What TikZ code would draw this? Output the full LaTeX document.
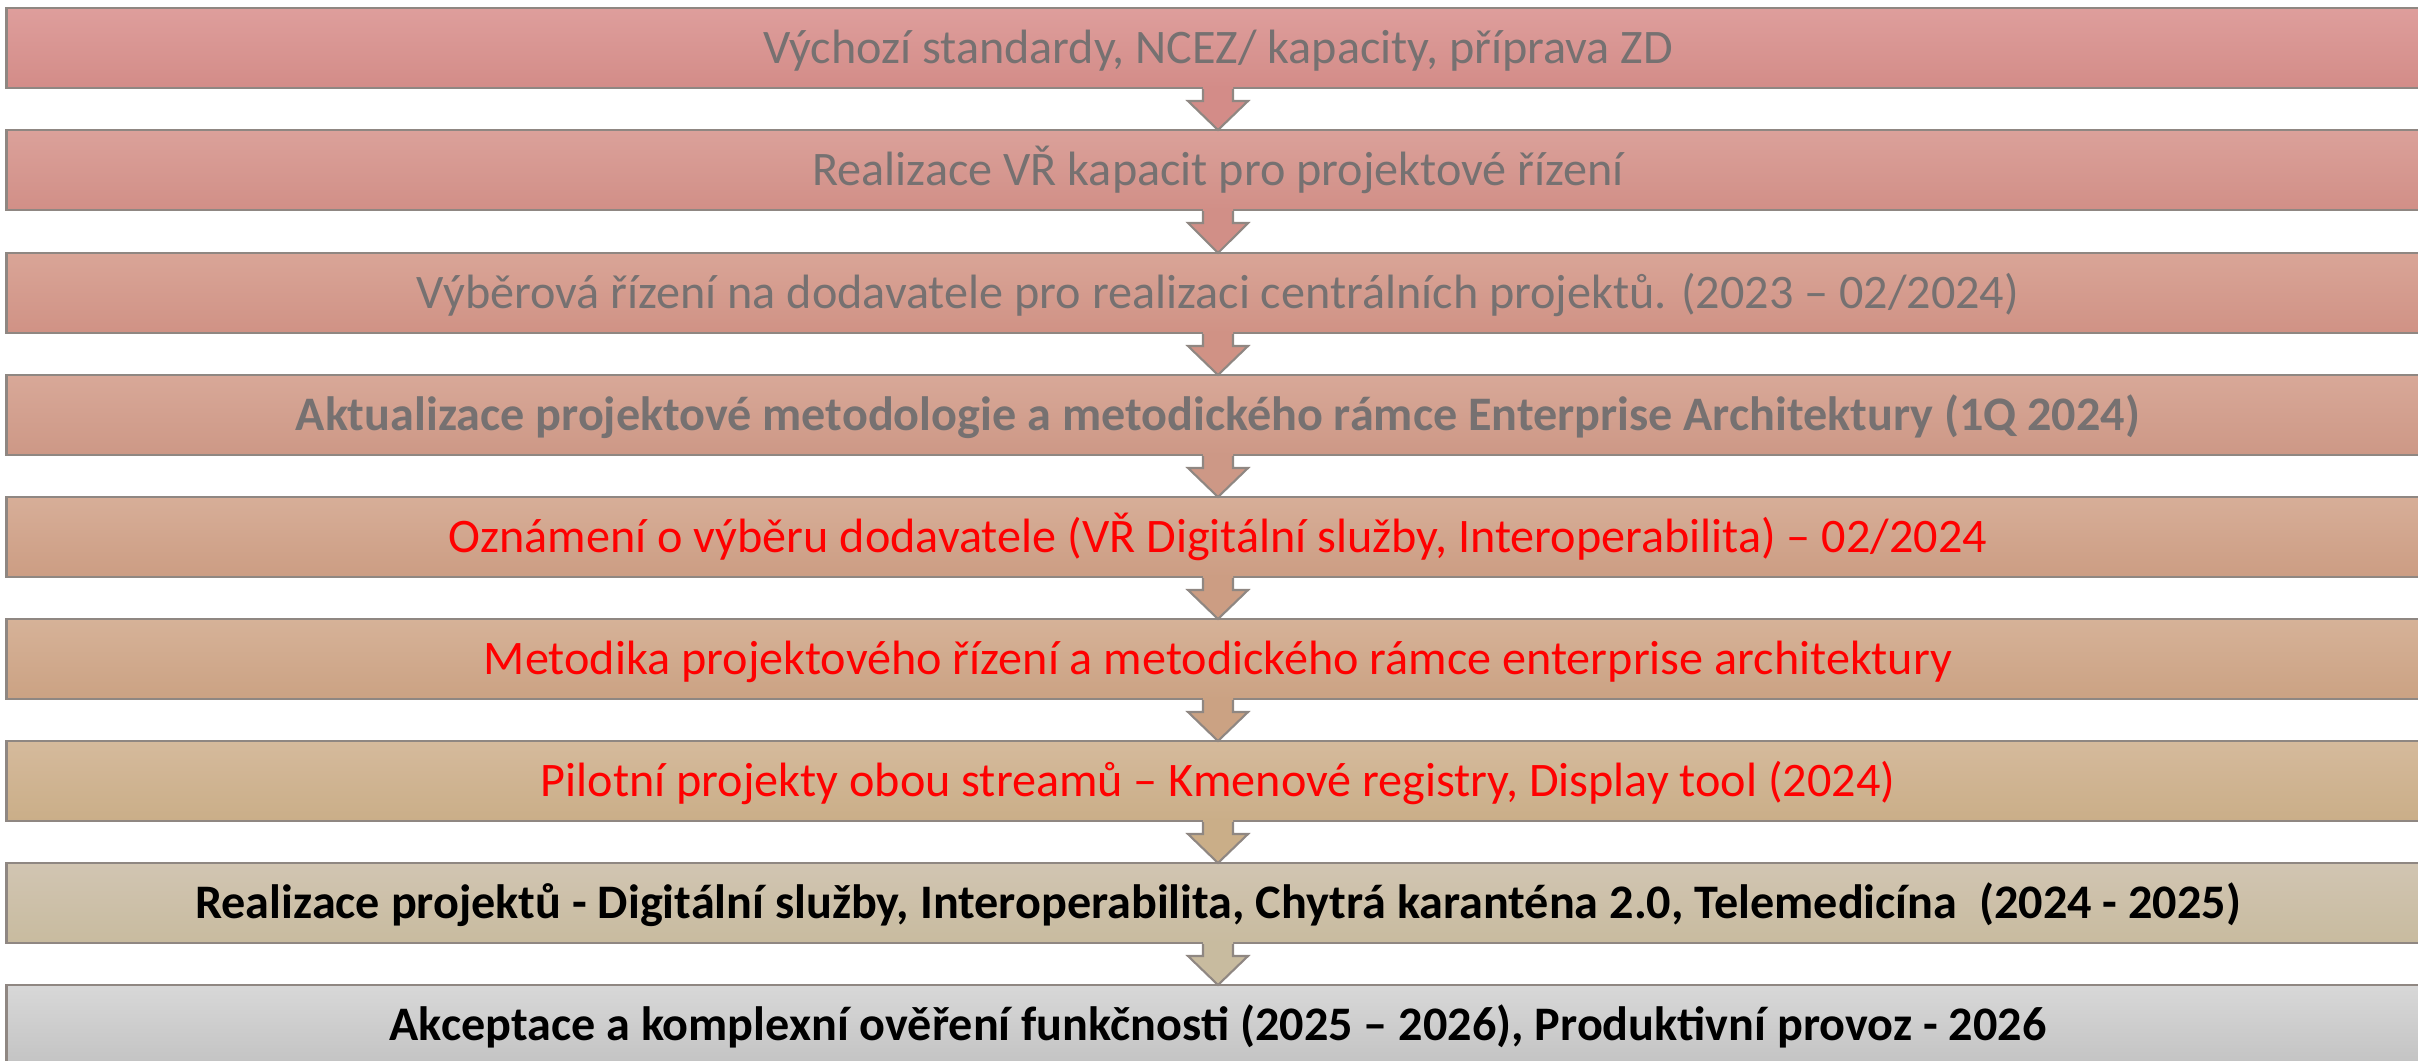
\documentclass[tikz,border=0pt]{standalone}
\usepackage{fontspec}
\setmainfont{Carlito}
\usetikzlibrary{calc}

\definecolor{topA}{HTML}{DE9E9C}\definecolor{botA}{HTML}{D38C88}
\definecolor{topB}{HTML}{DBA19A}\definecolor{botB}{HTML}{D18F87}
\definecolor{topC}{HTML}{D9A597}\definecolor{botC}{HTML}{D09285}
\definecolor{topD}{HTML}{D8A898}\definecolor{botD}{HTML}{CD9886}
\definecolor{topE}{HTML}{D7AE98}\definecolor{botE}{HTML}{CC9D83}
\definecolor{topF}{HTML}{D6B298}\definecolor{botF}{HTML}{CBA283}
\definecolor{topG}{HTML}{D5BA9C}\definecolor{botG}{HTML}{CAAE88}
\definecolor{topH}{HTML}{D1C5B2}\definecolor{botH}{HTML}{C8BB9F}
\definecolor{topI}{HTML}{D8D8D8}\definecolor{botI}{HTML}{C3C3C3}
\definecolor{txtgray}{HTML}{767171}
\definecolor{rimgray}{HTML}{8F8782}

\tikzset{
  box/.style 2 args={rectangle, draw=rimgray, line width=0.7pt,
    top color=#1, bottom color=#2, minimum width=24.22cm, minimum height=0.80cm,
    inner sep=0pt, outer sep=0pt, text height=0.31cm, text depth=0pt,
    font=\fontsize{13.7pt}{15pt}\selectfont},
  grey/.style={text=txtgray},
  red/.style={text=red},
  arrline/.style={draw=rimgray, line width=0.6pt, line join=miter}
}

\begin{document}
\begin{tikzpicture}[x=0.01cm, y=-0.01cm]
    \useasboundingbox (0,0) rectangle (2418,1061);
    \clip (0,0) rectangle (2418,1061);
%
    \node[box={topA}{botA}, grey] (b1) at (1218,48) {Výchozí standardy, NCEZ/ kapacity, příprava ZD};
    \node[box={topB}{botB}, grey] (b2) at (1218,170) {Realizace VŘ kapacit pro projektové řízení};
    \node[box={topC}{botC}, grey] (b3) at (1218,293) {Výběrová řízení na dodavatele pro realizaci centrálních projektů. (2023 – 02/2024)};
    \node[box={topD}{botD}, grey] (b4) at (1218,415) {\bfseries Aktualizace projektové metodologie a metodického rámce Enterprise Architektury (1Q 2024)};
    \node[box={topE}{botE}, red] (b5) at (1218,537) {Oznámení o výběru dodavatele (VŘ Digitální služby, Interoperabilita) – 02/2024};
    \node[box={topF}{botF}, red] (b6) at (1218,659) {Metodika projektového řízení a metodického rámce enterprise architektury};
    \node[box={topG}{botG}, red] (b7) at (1218,781) {Pilotní projekty obou streamů – Kmenové registry, Display tool (2024)};
    \node[box={topH}{botH}] (b8) at (1218,903) {\bfseries Realizace projektů - Digitální služby, Interoperabilita, Chytrá karanténa 2.0, Telemedicína~ (2024 - 2025)};
    \node[box={topI}{botI}] (b9) at (1218,1025) {\bfseries Akceptace a komplexní ověření funkčnosti (2025 – 2026), Produktivní provoz - 2026};
%
    \foreach \a/\b/\c in {b1/b2/botA, b2/b3/botB, b3/b4/botC, b4/b5/botD,
                          b5/b6/botE, b6/b7/botF, b7/b8/botG, b8/b9/botH} {
      \fill[\c] ($(\a.south)+(-15,-2)$) -- ($(\a.south)+(-15,13)$) -- ($(\a.south)+(-30,13)$)
        -- (\b.north) -- ($(\a.south)+(30,13)$) -- ($(\a.south)+(15,13)$) -- ($(\a.south)+(15,-2)$) -- cycle;
      \draw[arrline] ($(\a.south)+(-15,1)$) -- ($(\a.south)+(-15,13)$) -- ($(\a.south)+(-30,13)$)
        -- (\b.north) -- ($(\a.south)+(30,13)$) -- ($(\a.south)+(15,13)$) -- ($(\a.south)+(15,1)$);
    }
  \end{tikzpicture}
\end{document}
